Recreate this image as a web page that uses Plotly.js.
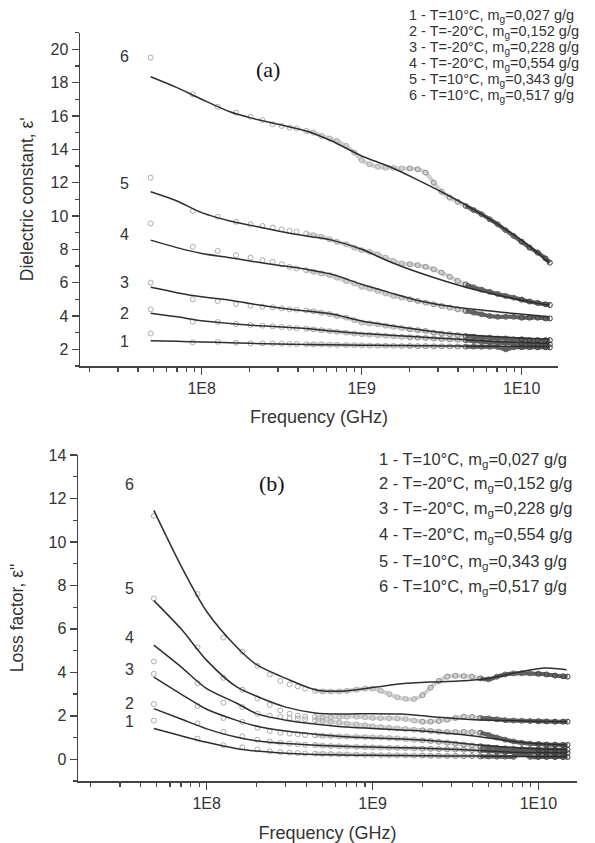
<!DOCTYPE html>
<html><head><meta charset="utf-8">
<script src="https://cdn.plot.ly/plotly-3.0.1.min.js"></script>
<style>html,body{margin:0;padding:0;background:#fff}#chart{width:595px;height:843px}</style>
</head><body><div id="chart"></div>
<script>
// ---------------- DATA ----------------
// frequencies (Hz) of the fitted curves
const FIT_FREQ = [4.8e7, 7e7, 1e8, 1.5e8, 2e8, 3e8, 4.5e8, 6.5e8, 1e9, 1.5e9, 2.2e9, 3.3e9, 5e9, 7.5e9, 1.1e10, 1.48e10];
// frequencies (Hz) of the measured points
const MEAS_FREQ = [4.8e7, 8.8e7, 1.26e8, 1.64e8, 2.02e8, 2.40e8, 2.78e8, 3.16e8, 3.54e8, 3.92e8,
  4.5e8, 5.0e8, 5.6e8, 6.3e8, 7.0e8, 8.0e8, 9.0e8, 1.0e9, 1.12e9, 1.26e9,
  1.41e9, 1.58e9, 1.78e9, 2.0e9, 2.24e9, 2.51e9, 2.82e9, 3.16e9, 3.55e9, 3.98e9,
  4.47e9, 5.01e9, 5.62e9, 6.31e9, 7.08e9, 7.94e9, 8.91e9, 1.0e10, 1.12e10, 1.26e10,
  1.41e10, 1.5e10];

// (a) dielectric constant, fitted curves
const A_FIT_1 = [2.52, 2.48, 2.44, 2.40, 2.36, 2.32, 2.29, 2.27, 2.25, 2.23, 2.22, 2.20, 2.19, 2.18, 2.17, 2.16];
const A_FIT_2 = [4.16, 3.95, 3.72, 3.55, 3.45, 3.35, 3.25, 3.10, 2.95, 2.85, 2.75, 2.65, 2.55, 2.45, 2.40, 2.35];
const A_FIT_3 = [5.72, 5.40, 5.15, 4.95, 4.75, 4.50, 4.30, 4.12, 3.70, 3.43, 3.20, 2.98, 2.84, 2.74, 2.66, 2.62];
const A_FIT_4 = [8.55, 8.10, 7.75, 7.50, 7.30, 7.05, 6.80, 6.50, 5.90, 5.40, 4.95, 4.63, 4.40, 4.22, 4.07, 3.96];
const A_FIT_5 = [11.45, 10.90, 10.20, 9.70, 9.45, 9.10, 8.80, 8.55, 8.00, 7.25, 6.65, 6.10, 5.60, 5.20, 4.87, 4.66];
const A_FIT_6 = [18.35, 17.70, 17.00, 16.25, 15.90, 15.50, 15.10, 14.50, 13.60, 12.95, 12.20, 11.35, 10.40, 9.35, 8.25, 7.20];

// (a) dielectric constant, measured points
const A_MEAS_1 = [2.95, 2.42, 2.45, 2.40, 2.36, 2.36, 2.35, 2.34, 2.33, 2.32, 2.31, 2.30, 2.30, 2.28, 2.27, 2.26, 2.25, 2.24, 2.23, 2.22, 2.22, 2.21, 2.20, 2.20, 2.19, 2.19, 2.18, 2.18, 2.17, 2.17, 2.16, 2.16, 2.15, 2.15, 2.14, 2.00, 2.12, 2.13, 2.13, 2.12, 2.12, 2.12];
const A_MEAS_2 = [4.40, 3.66, 3.64, 3.52, 3.46, 3.42, 3.38, 3.34, 3.30, 3.27, 3.24, 3.20, 3.15, 3.10, 3.05, 3.00, 2.95, 2.90, 2.88, 2.85, 2.82, 2.78, 2.75, 2.72, 2.70, 2.68, 2.65, 2.62, 2.60, 2.58, 2.55, 2.50, 2.45, 2.42, 2.40, 2.38, 2.35, 2.35, 2.32, 2.30, 2.30, 2.30];
const A_MEAS_3 = [6.00, 5.00, 4.90, 4.72, 4.62, 4.56, 4.52, 4.46, 4.40, 4.38, 4.33, 4.28, 4.20, 4.12, 4.00, 3.90, 3.75, 3.60, 3.55, 3.50, 3.42, 3.35, 3.28, 3.20, 3.15, 3.10, 3.00, 2.95, 2.90, 2.85, 2.80, 2.75, 2.70, 2.70, 2.65, 2.65, 2.60, 2.60, 2.55, 2.55, 2.55, 2.55];
const A_MEAS_4 = [9.55, 8.15, 7.90, 7.65, 7.50, 7.35, 7.25, 7.10, 6.95, 6.85, 6.75, 6.65, 6.55, 6.45, 6.30, 6.10, 5.95, 5.75, 5.65, 5.50, 5.35, 5.20, 5.10, 5.00, 4.90, 4.80, 4.70, 4.60, 4.50, 4.40, 4.30, 4.20, 4.10, 4.00, 3.95, 3.95, 3.95, 3.90, 3.90, 3.90, 3.85, 3.85];
const A_MEAS_5 = [12.30, 10.30, 9.95, 9.65, 9.50, 9.40, 9.30, 9.20, 9.10, 9.05, 8.95, 8.85, 8.75, 8.60, 8.45, 8.30, 8.10, 7.95, 7.85, 7.70, 7.50, 7.30, 7.15, 7.10, 7.05, 6.95, 6.80, 6.60, 6.35, 6.10, 5.90, 5.72, 5.58, 5.45, 5.32, 5.20, 5.10, 4.98, 4.87, 4.78, 4.70, 4.66];
const A_MEAS_6 = [19.50, 17.30, 16.55, 16.20, 15.95, 15.75, 15.50, 15.40, 15.30, 15.25, 15.10, 15.00, 14.80, 14.65, 14.50, 14.20, 13.80, 13.35, 13.10, 12.95, 12.90, 12.88, 12.85, 12.85, 12.80, 12.60, 12.00, 11.45, 11.10, 10.85, 10.60, 10.35, 10.10, 9.80, 9.50, 9.15, 8.80, 8.45, 8.10, 7.80, 7.45, 7.20];

// (b) loss factor, fitted curves
const B_FIT_1 = [1.42, 1.08, 0.78, 0.50, 0.38, 0.28, 0.22, 0.20, 0.18, 0.17, 0.16, 0.15, 0.14, 0.13, 0.12, 0.12];
const B_FIT_2 = [2.33, 1.85, 1.40, 1.02, 0.85, 0.72, 0.65, 0.60, 0.56, 0.53, 0.50, 0.45, 0.38, 0.32, 0.30, 0.30];
const B_FIT_3 = [3.78, 3.00, 2.30, 1.80, 1.52, 1.30, 1.15, 1.05, 0.98, 0.93, 0.86, 0.75, 0.62, 0.52, 0.47, 0.45];
const B_FIT_4 = [5.25, 4.25, 3.25, 2.60, 2.10, 1.80, 1.62, 1.50, 1.42, 1.35, 1.28, 1.15, 0.98, 0.80, 0.70, 0.66];
const B_FIT_5 = [7.30, 6.00, 4.55, 3.35, 2.90, 2.40, 2.13, 2.08, 2.10, 2.08, 1.97, 1.87, 1.80, 1.77, 1.74, 1.73];
const B_FIT_6 = [11.45, 8.90, 6.80, 5.20, 4.35, 3.72, 3.20, 3.13, 3.30, 3.47, 3.55, 3.60, 3.72, 4.00, 4.20, 4.12];

// (b) loss factor, measured points
const B_MEAS_1 = [1.78, 0.95, 0.65, 0.55, 0.45, 0.37, 0.33, 0.31, 0.29, 0.27, 0.26, 0.25, 0.24, 0.23, 0.22, 0.21, 0.20, 0.20, 0.19, 0.19, 0.18, 0.18, 0.17, 0.17, 0.16, 0.16, 0.15, 0.15, 0.14, 0.14, 0.13, 0.13, 0.12, 0.12, 0.11, 0.28, 0.11, 0.10, 0.10, 0.10, 0.10, 0.10];
const B_MEAS_2 = [2.54, 1.65, 1.27, 1.05, 0.90, 0.82, 0.76, 0.72, 0.69, 0.67, 0.65, 0.63, 0.61, 0.60, 0.58, 0.57, 0.56, 0.55, 0.54, 0.53, 0.52, 0.51, 0.50, 0.49, 0.48, 0.47, 0.46, 0.45, 0.44, 0.42, 0.40, 0.38, 0.36, 0.34, 0.33, 0.32, 0.31, 0.30, 0.30, 0.29, 0.29, 0.29];
const B_MEAS_3 = [3.93, 2.45, 1.90, 1.72, 1.45, 1.30, 1.22, 1.18, 1.15, 1.12, 1.10, 1.08, 1.07, 1.05, 1.04, 1.03, 1.02, 1.01, 1.00, 0.98, 0.96, 0.93, 0.90, 0.87, 0.84, 0.80, 0.76, 0.72, 0.68, 0.64, 0.60, 0.56, 0.53, 0.50, 0.48, 0.47, 0.46, 0.45, 0.45, 0.44, 0.44, 0.44];
const B_MEAS_4 = [4.50, 3.50, 2.60, 2.40, 2.10, 2.00, 1.95, 1.90, 1.87, 1.84, 1.80, 1.76, 1.72, 1.68, 1.64, 1.60, 1.56, 1.52, 1.48, 1.45, 1.42, 1.39, 1.36, 1.33, 1.30, 1.27, 1.25, 1.25, 1.26, 1.25, 1.22, 1.12, 1.00, 0.90, 0.82, 0.76, 0.72, 0.70, 0.68, 0.67, 0.66, 0.66];
const B_MEAS_5 = [7.40, 5.15, 3.75, 3.20, 2.80, 2.50, 2.25, 2.10, 2.00, 1.96, 1.94, 1.92, 1.92, 1.94, 1.96, 1.96, 1.93, 1.90, 1.89, 1.89, 1.88, 1.85, 1.78, 1.73, 1.73, 1.76, 1.82, 1.90, 1.96, 1.95, 1.90, 1.88, 1.84, 1.80, 1.78, 1.77, 1.76, 1.75, 1.74, 1.73, 1.73, 1.73];
const B_MEAS_6 = [11.20, 7.60, 5.60, 4.95, 4.30, 3.90, 3.60, 3.45, 3.35, 3.25, 3.15, 3.12, 3.12, 3.12, 3.15, 3.20, 3.25, 3.25, 3.15, 3.00, 2.85, 2.78, 2.77, 2.95, 3.30, 3.60, 3.80, 3.84, 3.83, 3.80, 3.72, 3.68, 3.80, 3.90, 3.95, 3.96, 3.95, 3.93, 3.90, 3.85, 3.82, 3.80];

// labels
const CURVE_NUMBERS = ['1', '2', '3', '4', '5', '6'];
const TEMPERATURES = ['10', '-20', '-20', '-20', '10', '10'];
const MOISTURE = ['0,027', '0,152', '0,228', '0,554', '0,343', '0,517'];
const X_TICK_VALUES = [1e8, 1e9, 1e10];
const X_TICK_TEXT = ['1E8', '1E9', '1E10'];

// ---------------- DRAWING ----------------
const A_FIT = [A_FIT_1, A_FIT_2, A_FIT_3, A_FIT_4, A_FIT_5, A_FIT_6];
const A_MEAS = [A_MEAS_1, A_MEAS_2, A_MEAS_3, A_MEAS_4, A_MEAS_5, A_MEAS_6];
const B_FIT = [B_FIT_1, B_FIT_2, B_FIT_3, B_FIT_4, B_FIT_5, B_FIT_6];
const B_MEAS = [B_MEAS_1, B_MEAS_2, B_MEAS_3, B_MEAS_4, B_MEAS_5, B_MEAS_6];

function shade(f) {
  const l = Math.log10(f);
  if (l < 9.3) return '#ababab';
  if (l < 9.65) return '#8c8c8c';
  if (l < 9.95) return '#5e5e5e';
  return '#3a3a3a';
}
function pick(xs, ys, fmin) {
  const x = [], y = [];
  xs.forEach((f, i) => { if (f >= fmin) { x.push(f); y.push(ys[i]); } });
  return {x, y};
}

const traces = [];
function addPanel(fits, meas, xa, ya) {
  meas.forEach((ys, k) => {
    const mid = pick(MEAS_FREQ, ys, 4.5e8);
    traces.push({x: mid.x, y: mid.y, xaxis: xa, yaxis: ya, mode: 'lines', hoverinfo: 'skip',
      line: {color: 'rgba(170,170,170,0.55)', width: 4, shape: 'spline'}, name: 'band ' + CURVE_NUMBERS[k]});
    const hi = pick(MEAS_FREQ, ys, 4.4e9);
    traces.push({x: hi.x, y: hi.y, xaxis: xa, yaxis: ya, mode: 'lines', hoverinfo: 'skip',
      line: {color: 'rgba(60,60,60,0.75)', width: 4, shape: 'spline'}, name: 'band hi ' + CURVE_NUMBERS[k]});
    traces.push({x: MEAS_FREQ, y: ys, xaxis: xa, yaxis: ya, mode: 'markers', name: 'measured ' + CURVE_NUMBERS[k],
      marker: {symbol: 'circle-open', size: 5, color: MEAS_FREQ.map(shade), line: {width: 1, color: MEAS_FREQ.map(shade)}}});
  });
  fits.forEach((ys, k) => {
    traces.push({x: FIT_FREQ, y: ys, xaxis: xa, yaxis: ya, mode: 'lines', name: 'fit ' + CURVE_NUMBERS[k],
      line: {color: '#2e2e2e', width: 1.5, shape: 'spline', smoothing: 0.8}});
  });
}
addPanel(A_FIT, A_MEAS, 'x', 'y');
addPanel(B_FIT, B_MEAS, 'x2', 'y2');

const AX_COL = '#444';
function xAxis(domain, range, anchor, standoff) {
  return {type: 'log', domain, range, anchor, tickmode: 'array', tickvals: X_TICK_VALUES, ticktext: X_TICK_TEXT,
    ticks: 'outside', ticklen: 7, tickwidth: 1.5, tickcolor: AX_COL, showline: true, linecolor: AX_COL, linewidth: 1.5,
    showgrid: false, zeroline: false, tickfont: {size: 16, color: '#333'},
    minor: {dtick: 'D1', ticks: 'outside', ticklen: 4, tickwidth: 1.2, tickcolor: AX_COL, showgrid: false},
    title: {text: 'Frequency (GHz)', font: {size: 18, color: '#333'}, standoff}};
}
function yAxis(domain, range, anchor, title, standoff) {
  return {domain, range, anchor, tickmode: 'linear', tick0: 0, dtick: 2,
    ticks: 'outside', ticklen: 7, tickwidth: 1.5, tickcolor: AX_COL, showline: true, linecolor: AX_COL, linewidth: 1.5,
    showgrid: false, zeroline: false, tickfont: {size: 16, color: '#333'},
    minor: {tick0: 0, dtick: 1, ticks: 'outside', ticklen: 4, tickwidth: 1.2, tickcolor: AX_COL, showgrid: false},
    title: {text: title, font: {size: 17.5, color: '#333'}, standoff}};
}

const H = 843, W = 595;
const annotations = [];
// panel letters
annotations.push({xref: 'paper', yref: 'paper', x: 268 / W, y: 1 - 55 / H, text: '(a)', showarrow: false,
  font: {family: '"Liberation Serif", "Times New Roman", serif', size: 22, color: '#111'}});
annotations.push({xref: 'paper', yref: 'paper', x: 272 / W, y: 1 - 483 / H, text: '(b)', showarrow: false,
  font: {family: '"Liberation Serif", "Times New Roman", serif', size: 22, color: '#111'}});
// legend-like text blocks
const legendText = CURVE_NUMBERS.map((n, i) => n + ' - T=' + TEMPERATURES[i] + '°C, m<sub>g</sub>=' + MOISTURE[i] + ' g/g');
const legA = [16, 32.3, 48.3, 64.3, 80, 95.7];
const legB = [460, 483.5, 509.3, 535, 561.5, 586.7];
legendText.forEach((t, i) => {
  annotations.push({xref: 'paper', yref: 'paper', x: 407 / W, y: 1 - legA[i] / H, xanchor: 'left', yanchor: 'middle',
    text: t, showarrow: false, font: {size: 14.5, color: '#333'}});
  annotations.push({xref: 'paper', yref: 'paper', x: 377 / W, y: 1 - legB[i] / H, xanchor: 'left', yanchor: 'middle',
    text: t, showarrow: false, font: {size: 16.5, color: '#333'}});
});
// curve numbers
const numYA = [2.46, 4.16, 6.0, 8.9, 11.96, 19.55];
const numYB = [1.73, 2.58, 4.12, 5.58, 7.84, 12.65];
CURVE_NUMBERS.forEach((n, i) => {
  annotations.push({xref: 'x', yref: 'y', x: Math.log10(3.27e7), y: numYA[i], text: n, showarrow: false, font: {size: 16, color: '#333'}});
  annotations.push({xref: 'x2', yref: 'y2', x: Math.log10(3.44e7), y: numYB[i], text: n, showarrow: false, font: {size: 16, color: '#333'}});
});

const layout = {
  width: W, height: H, margin: {l: 0, r: 0, t: 0, b: 0}, paper_bgcolor: '#fff', plot_bgcolor: '#fff', showlegend: false,
  font: {family: '"Liberation Sans", Arial, sans-serif', color: '#333', size: 15},
  xaxis: xAxis([80 / W, 558 / W], [7.2394, 10.227], 'y', 14),
  yaxis: yAxis([1 - 366 / H, 1 - 32.6 / H], [1, 21], 'x', 'Dielectric constant, ε\'', 12),
  xaxis2: xAxis([78 / W, 577 / W], [7.2238, 10.233], 'y2', 16),
  yaxis2: yAxis([1 - 781 / H, 1 - 455 / H], [-1, 14], 'x2', 'Loss factor, ε"', 20),
  annotations
};

Plotly.newPlot('chart', traces, layout, {staticPlot: true, displayModeBar: false});
</script>
</body></html>
